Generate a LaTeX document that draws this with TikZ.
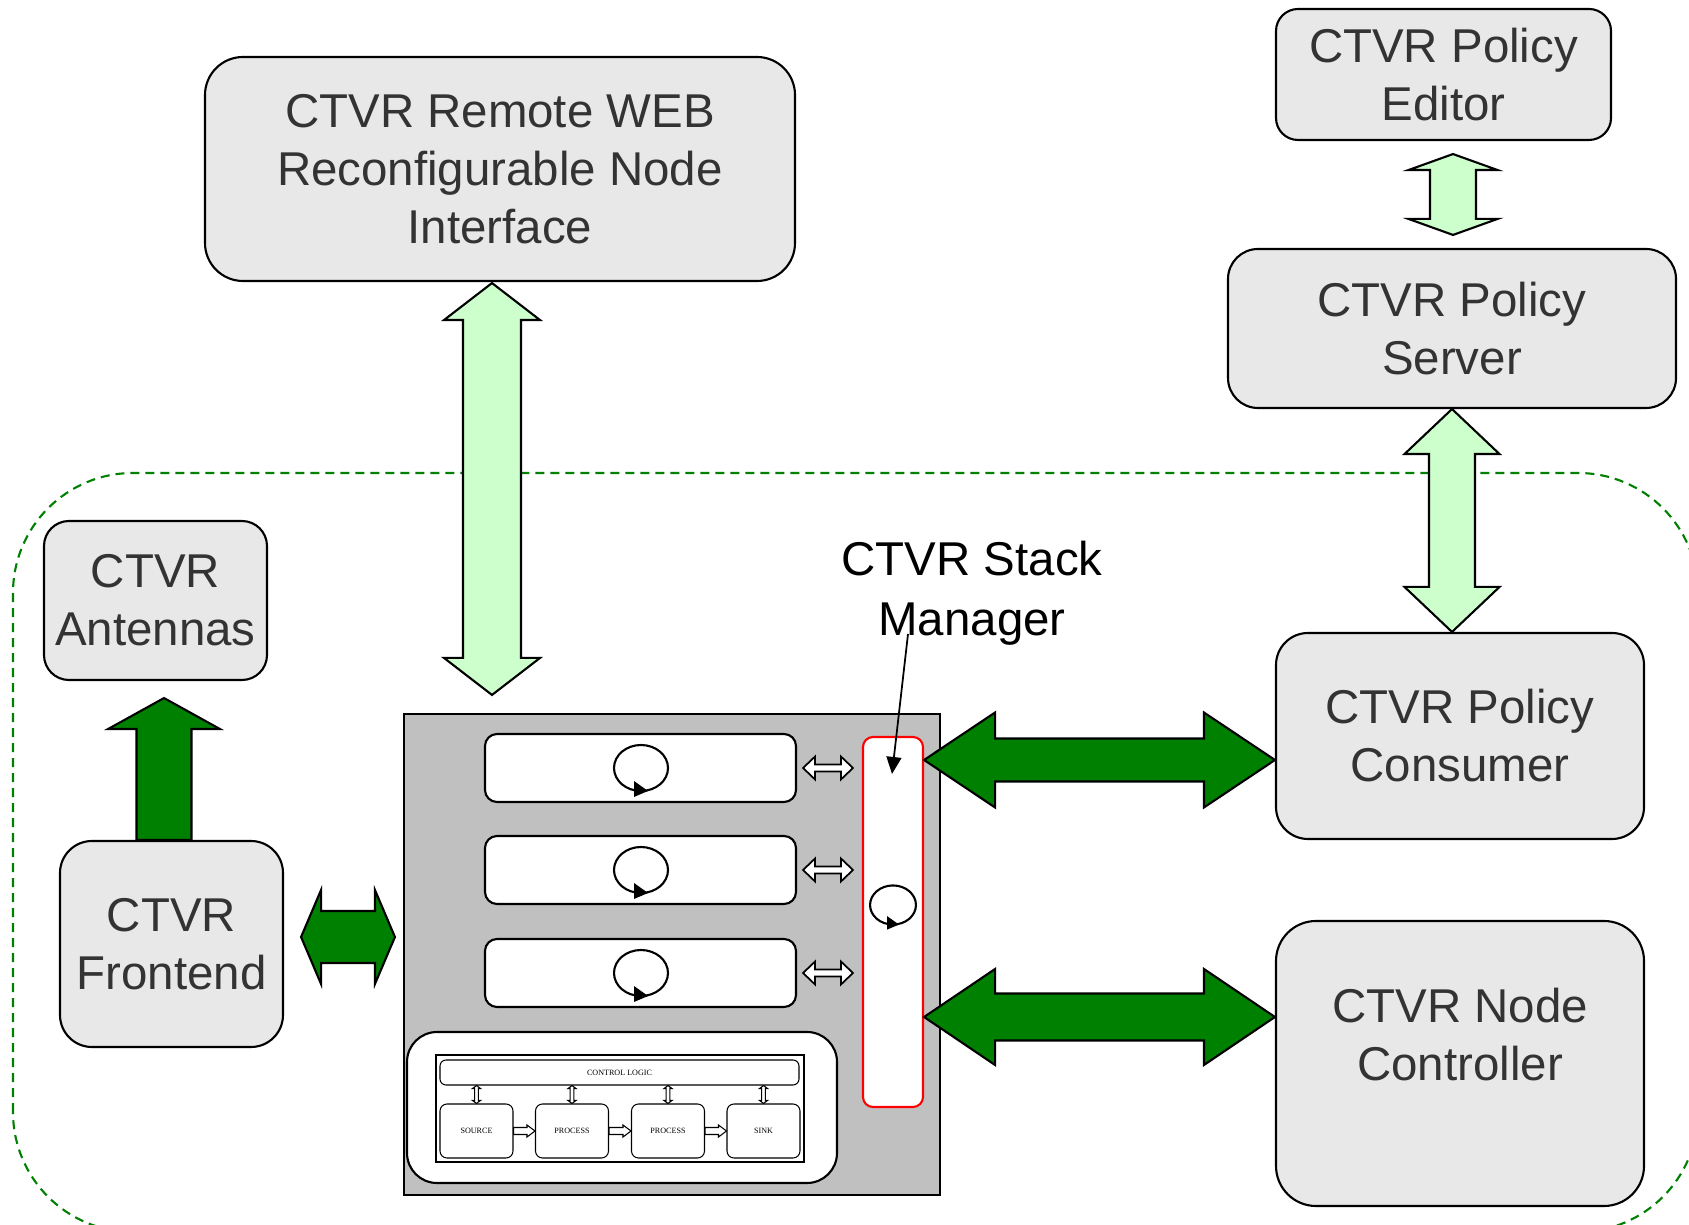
\documentclass[tikz,border=0pt]{standalone}
\usepackage{fontspec}
\setmainfont{Liberation Sans}
\newfontfamily\tinyserif{Liberation Serif}
\usetikzlibrary{arrows.meta, calc}

\definecolor{boxgray}{HTML}{E8E8E8}
\definecolor{stackgray}{HTML}{C0C0C0}
\definecolor{darkgreen}{HTML}{008000}
\definecolor{palegreen}{HTML}{CCFFCC}
\definecolor{labelgray}{HTML}{333333}

% block arrows: style, from, to, half shaft, half head, head length
\newcommand{\dblarrow}[6]{%
  \draw[#1] (#2)
    -- ($(#2)!#6!(#3)!#5!90:(#3)$) -- ($(#2)!#6!(#3)!#4!90:(#3)$)
    -- ($(#3)!#6!(#2)!#4!-90:(#2)$) -- ($(#3)!#6!(#2)!#5!-90:(#2)$)
    -- (#3)
    -- ($(#3)!#6!(#2)!#5!90:(#2)$) -- ($(#3)!#6!(#2)!#4!90:(#2)$)
    -- ($(#2)!#6!(#3)!#4!-90:(#3)$) -- ($(#2)!#6!(#3)!#5!-90:(#3)$)
    -- cycle;}
\newcommand{\onearrow}[6]{%
  \draw[#1] ($(#2)!#4!90:(#3)$)
    -- ($(#3)!#6!(#2)!#4!-90:(#2)$) -- ($(#3)!#6!(#2)!#5!-90:(#2)$)
    -- (#3)
    -- ($(#3)!#6!(#2)!#5!90:(#2)$) -- ($(#3)!#6!(#2)!#4!90:(#2)$)
    -- ($(#2)!#4!-90:(#3)$)
    -- cycle;}

\begin{document}
\begin{tikzpicture}[
            line width = 0.6pt,
            font = \fontsize{13.5}{16.5}\selectfont,
            box/.style = {draw, fill=boxgray, text=labelgray, align=center, inner sep=0pt},
            proc/.style = {draw, fill=white, rounded corners=0.12cm, minimum width=3.11cm, minimum height=0.68cm},
            stage/.style = {draw, line width=0.3pt, fill=white, rounded corners=0.07cm,
                minimum width=0.73cm, minimum height=0.54cm, inner sep=0pt,
                font=\tinyserif\fontsize{2.3}{3}\selectfont},
            fatdark/.style = {draw, fill=darkgreen},
            fatlight/.style = {draw, fill=palegreen},
            openarrow/.style = {draw, fill=white, line width=0.5pt},
            spin/.pic = {
                \draw (0,0) ellipse (0.27cm and 0.23cm);
                \fill (-0.07,-0.13) -- (0.07,-0.23) -- (-0.07,-0.29) -- cycle;
            }
        ]

        \useasboundingbox (0,0) rectangle (16.89,12.24);
        \clip (0,0) rectangle (16.89,12.24);

        % node boundary
        \draw[darkgreen, dash pattern=on 0.09cm off 0.06cm, rounded corners=1.2cm]
            (0.13,-0.08) rectangle (16.98,7.51);

        \node[box, rounded corners=0.38cm, minimum width=5.90cm, minimum height=2.24cm] (web) at (5.00,10.55)
            {CTVR Remote WEB\\Reconfigurable Node\\Interface};
        \node[box, rounded corners=0.22cm, minimum width=3.35cm, minimum height=1.31cm] (editor) at (14.435,11.495)
            {CTVR Policy\\Editor};
        \node[box, rounded corners=0.3cm, minimum width=4.48cm, minimum height=1.59cm] (server) at (14.52,8.955)
            {CTVR Policy\\Server};
        \node[box, rounded corners=0.25cm, minimum width=2.23cm, minimum height=1.59cm] (antennas) at (1.555,6.235)
            {CTVR\\Antennas};
        \node[box, rounded corners=0.32cm, minimum width=2.23cm, minimum height=2.06cm] (frontend) at (1.715,2.80)
            {CTVR\\Frontend};
        \node[box, rounded corners=0.32cm, minimum width=3.68cm, minimum height=2.06cm] (consumer) at (14.60,4.88)
            {CTVR Policy\\Consumer};
        \node[box, rounded corners=0.4cm, minimum width=3.68cm, minimum height=2.85cm] (nodectl) at (14.60,1.605)
            {CTVR Node\\Controller\\~};

        % protocol stack
        \node[draw, fill=stackgray, minimum width=5.36cm, minimum height=4.81cm, inner sep=0pt] (stack) at (6.72,2.695) {};
        \node[draw=red, fill=white, rounded corners=0.1cm, minimum width=0.60cm, minimum height=3.70cm] (smgr) at (8.93,3.02) {};
        \pic[scale=0.85] at (8.93,3.19) {spin};

        \foreach \i/\y in {1/4.56, 2/3.54, 3/2.51} {
            \node[proc] (proc\i) at (6.405,\y) {};
            \pic at (6.41,\y) {spin};
            \coordinate (pl\i) at ($(proc\i.east)+(0.06,0)$);
            \coordinate (pr\i) at ($(proc\i.east -| smgr.west)+(-0.09,0)$);
            \dblarrow{openarrow}{pl\i}{pr\i}{0.035cm}{0.115cm}{0.12cm}
        }

        \node[align=center, font=\fontsize{13.5}{17}\selectfont] (mgrlabel) at (9.72,6.31) {CTVR Stack\\Manager};
        \coordinate (mgrtail) at (9.08,5.90);
        \draw[line width=0.5pt, -{Triangle[length=0.17cm, width=0.15cm]}] (mgrtail) -- ($(smgr.north)+(-0.01,-0.38)$);

        % control logic chain
        \node[draw, fill=white, rounded corners=0.3cm, minimum width=4.30cm, minimum height=1.51cm] (ctlarea) at (6.22,1.165) {};
        \node[draw, line width=0.4pt, minimum width=3.68cm, minimum height=1.07cm] (ctlframe) at (6.20,1.155) {};
        \node[draw, line width=0.3pt, rounded corners=0.06cm, minimum width=3.59cm, minimum height=0.25cm, inner sep=0pt,
            font=\tinyserif\fontsize{2.3}{3}\selectfont] (ctl) at (6.195,1.515) {CONTROL LOGIC};
        \foreach \n/\x/\t in {src/4.765/SOURCE, proca/5.72/PROCESS, procb/6.68/PROCESS, sink/7.635/SINK} {
            \node[stage] (\n) at (\x,0.93) {\t};
            \coordinate (\n top) at (\n.north |- ctl.south);
            \dblarrow{openarrow, line width=0.3pt}{\n.north}{\n top}{0.018cm}{0.04cm}{0.03cm}
        }
        \onearrow{openarrow, line width=0.3pt}{src.east}{proca.west}{0.035cm}{0.06cm}{0.08cm}
        \onearrow{openarrow, line width=0.3pt}{proca.east}{procb.west}{0.035cm}{0.06cm}{0.08cm}
        \onearrow{openarrow, line width=0.3pt}{procb.east}{sink.west}{0.035cm}{0.06cm}{0.08cm}

        % block arrows
        \coordinate (webtop) at ($(web.south)+(-0.08,-0.01)$);
        \coordinate (webbot) at ($(stack.north)+(-1.80,0.18)$);
        \dblarrow{fatlight}{webtop}{webbot}{0.29cm}{0.48cm}{0.37cm}

        \coordinate (edtop) at ($(editor.south)+(0.095,-0.13)$);
        \coordinate (edbot) at ($(server.north)+(0.01,0.13)$);
        \dblarrow{fatlight}{edtop}{edbot}{0.23cm}{0.445cm}{0.16cm}

        \coordinate (srvbot) at (server.south |- consumer.north);
        \dblarrow{fatlight}{server.south}{srvbot}{0.23cm}{0.475cm}{0.45cm}

        \coordinate (antbot) at ($(frontend.north)+(-0.075,0)$);
        \coordinate (anttop) at ($(antennas.south)+(0.085,-0.17)$);
        \onearrow{fatdark}{antbot}{anttop}{0.275cm}{0.56cm}{0.31cm}

        \coordinate (feleft) at ($(frontend.east)+(0.17,0.07)$);
        \coordinate (feright) at (stack.west |- feleft);
        \coordinate (feright) at ($(feright)+(-0.08,0)$);
        \dblarrow{fatdark}{feleft}{feright}{0.26cm}{0.47cm}{0.20cm}

        \coordinate (polright) at ($(consumer.west)+(0,-0.24)$);
        \coordinate (polleft) at (smgr.east |- polright);
        \dblarrow{fatdark}{polleft}{polright}{0.215cm}{0.475cm}{0.71cm}

        \coordinate (ctlright) at ($(nodectl.west)+(0,0.465)$);
        \coordinate (ctlleft) at (smgr.east |- ctlright);
        \dblarrow{fatdark}{ctlleft}{ctlright}{0.235cm}{0.48cm}{0.71cm}
    \end{tikzpicture}
\end{document}
